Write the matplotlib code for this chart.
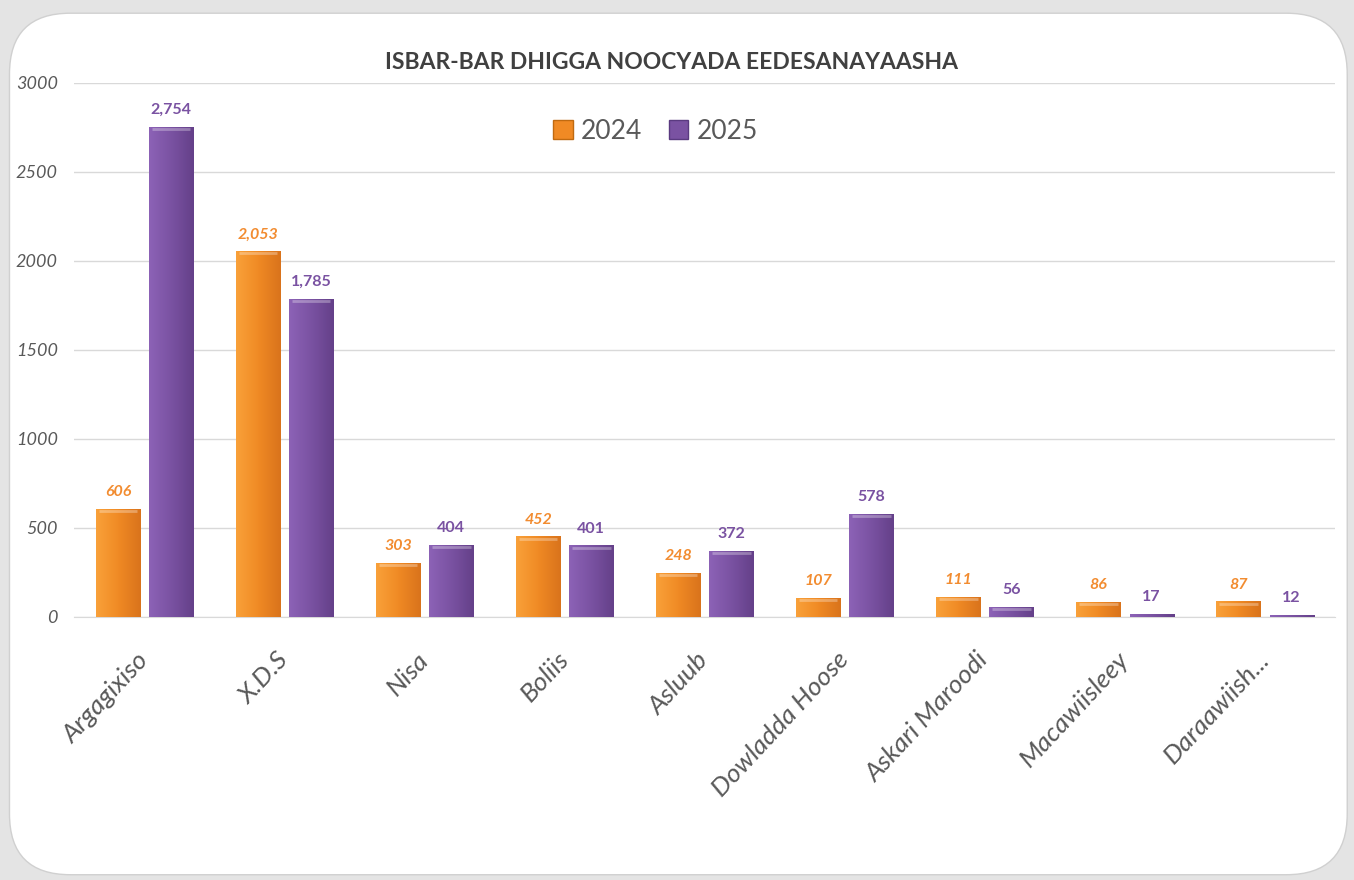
import numpy as np
import matplotlib.pyplot as plt
from matplotlib.patches import FancyBboxPatch, Patch
from matplotlib.colors import LinearSegmentedColormap

plt.rcParams['font.family'] = ['Lato', 'DejaVu Sans']

categories = ['Argagixiso', 'X.D.S', 'Nisa', 'Boliis', 'Asluub', 'Dowladda Hoose',
              'Askari Maroodi', 'Macawiisleey', 'Daraawiish...']
vals_2024 = [606, 2053, 303, 452, 248, 107, 111, 86, 87]
vals_2025 = [2754, 1785, 404, 401, 372, 578, 56, 17, 12]
yticks = [0, 500, 1000, 1500, 2000, 2500, 3000]

ORANGE = '#F08A24'
PURPLE = '#7A52A2'
GRAY = '#595959'

fig = plt.figure(figsize=(13.54, 8.8), dpi=100)
fig.patch.set_facecolor('#e4e4e4')
panel = FancyBboxPatch((0.007, 0.006), 0.988, 0.979, boxstyle='round,pad=0,rounding_size=0.045',
                       transform=fig.transFigure, facecolor='white', edgecolor='#d0d0d0',
                       linewidth=1, mutation_aspect=1354 / 880, zorder=-5)
fig.patches.append(panel)

ax = fig.add_axes([0.055, 0.299, 0.931, 0.607])
ax.set_zorder(2)
ax.set_facecolor('none')

x = np.arange(len(categories))
w = 0.315
off = 0.19

orange_cm = LinearSegmentedColormap.from_list('o', ['#F9A13A', '#F08A24', '#D9731C'])
purple_cm = LinearSegmentedColormap.from_list('p', ['#8C62B6', '#7A52A2', '#644089'])
grad = np.linspace(0, 1, 64).reshape(1, -1)

for vals, dx, cm, col in [(vals_2024, -off, orange_cm, ORANGE), (vals_2025, off, purple_cm, PURPLE)]:
    bars = ax.bar(x + dx, vals, width=w, color=col, edgecolor='none', zorder=2)
    for b in bars:
        bx, by = b.get_x(), b.get_y()
        bw, bh = b.get_width(), b.get_height()
        im = ax.imshow(grad, cmap=cm, aspect='auto', extent=(bx, bx + bw, by, by + bh),
                       zorder=3, interpolation='bicubic')
        im.set_clip_path(b)
        # light rim at the top of the bar
        if bh > 30:
            ax.plot([bx + 0.02, bx + bw - 0.02], [by + bh - 12, by + bh - 12],
                    color='white', alpha=0.3, lw=2, zorder=4, solid_capstyle='butt')

for i in range(len(categories)):
    ax.text(x[i] - off, vals_2024[i] + 55, f'{vals_2024[i]:,}', ha='center', va='bottom',
            color='#F28C30', fontsize=11.5, fontweight='bold', fontstyle='italic', zorder=5)
    ax.text(x[i] + off, vals_2025[i] + 55, f'{vals_2025[i]:,}', ha='center', va='bottom',
            color=PURPLE, fontsize=11.5, fontweight='bold', zorder=5)

ax.set_xlim(-0.5, len(categories) - 0.5)
ax.set_ylim(0, 3000)
ax.set_yticks(yticks)
ax.set_yticklabels([str(t) for t in yticks], fontstyle='italic', color=GRAY, fontsize=13)
ax.yaxis.grid(True, color='#d9d9d9', linewidth=1, zorder=0)
ax.set_axisbelow(True)
ax.tick_params(axis='both', length=0)
ax.tick_params(axis='y', pad=12)
for s in ['top', 'right', 'left']:
    ax.spines[s].set_visible(False)
ax.spines['bottom'].set_color('#d9d9d9')

ax.set_xticks(x)
ax.set_xticklabels(categories, rotation=47, ha='right', va='center', rotation_mode='anchor',
                   fontstyle='italic', color=GRAY, fontsize=19)
ax.tick_params(axis='x', pad=28)

fig.text(0.496, 0.929, 'ISBAR-BAR DHIGGA NOOCYADA EEDESANAYAASHA', ha='center', va='center',
         fontsize=16.5, fontweight='bold', color='#404040')

handles = [Patch(facecolor=ORANGE, edgecolor='#c06a10', label='2024'),
           Patch(facecolor=PURPLE, edgecolor='#5a3a80', label='2025')]
leg = fig.legend(handles=handles, loc='center', bbox_to_anchor=(0.484, 0.851), ncol=2,
                 frameon=False, fontsize=19, handlelength=0.75, handleheight=0.75,
                 handletextpad=0.3, columnspacing=1.0)
for t in leg.get_texts():
    t.set_color(GRAY)

fig.savefig('out.png', dpi=100, facecolor=fig.get_facecolor())
